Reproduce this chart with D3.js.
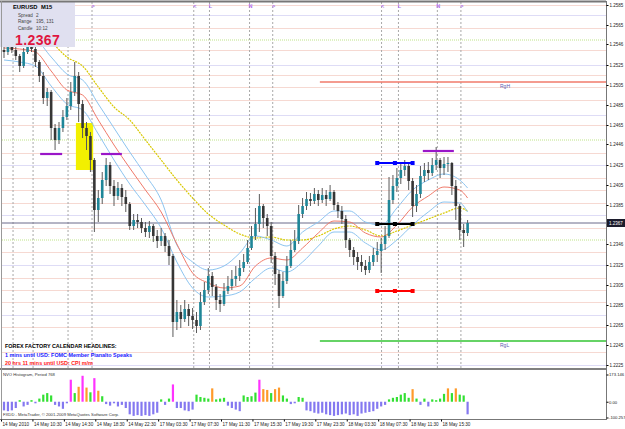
<!DOCTYPE html>
<html>
<head>
<meta charset="utf-8">
<script src="https://cdn.jsdelivr.net/npm/d3@7"></script>
<style>
body { margin: 0; background: #fff; }
svg { display: block; font-family: "Liberation Sans", Arial, sans-serif; }
</style>
</head>
<body>
<div id="chart"></div>
<script>
// EURUSD M15, drawn as 30 min bars
const firstOpen = 1.2540;
const closes = [1.2538,1.2543,1.2540,1.2534,1.2524,1.2538,1.2544,1.2541,1.2528,1.2514,
    1.2492,1.2498,1.2462,1.2450,1.2462,1.2473,1.2484,1.2498,1.2514,1.2486,
    1.2462,1.2454,1.2430,1.2380,1.2392,1.2410,1.2425,1.2404,1.2394,1.2402,
    1.2393,1.2386,1.2364,1.2370,1.2368,1.2362,1.2358,1.2364,1.2354,1.2349,
    1.2354,1.2344,1.2334,1.2268,1.2278,1.2271,1.2281,1.2274,1.2270,1.2264,
    1.2288,1.2300,1.2314,1.2303,1.2290,1.2286,1.2299,1.2304,1.2311,1.2314,
    1.2322,1.2328,1.2342,1.2354,1.2366,1.2384,1.2372,1.2364,1.2334,1.2316,
    1.2294,1.2309,1.2324,1.2340,1.2349,1.2376,1.2384,1.2391,1.2389,1.2396,
    1.2390,1.2395,1.2391,1.2398,1.2385,1.2379,1.2371,1.2350,1.2340,1.2333,
    1.2328,1.2324,1.2320,1.2328,1.2335,1.2339,1.2346,1.2354,1.2390,1.2404,
    1.2412,1.2420,1.2424,1.2409,1.2384,1.2396,1.2414,1.2420,1.2417,1.2425,
    1.2430,1.2422,1.2426,1.2427,1.2404,1.2384,1.2360,1.2357,1.2367];
const highs = [1.2543,1.2546,1.2547,1.2543,1.2536,1.2542,1.2547,1.2546,1.2544,1.2530,
    1.2518,1.2502,1.2500,1.2466,1.2468,1.2480,1.2492,1.2508,1.2528,1.2518,
    1.2490,1.2468,1.2458,1.2432,1.2400,1.2418,1.2432,1.2428,1.2410,1.2408,
    1.2406,1.2400,1.2388,1.2376,1.2376,1.2372,1.2368,1.2369,1.2366,1.2360,
    1.2362,1.2357,1.2350,1.2336,1.2290,1.2285,1.2290,1.2286,1.2282,1.2278,
    1.2298,1.2308,1.2322,1.2318,1.2306,1.2296,1.2307,1.2314,1.2320,1.2324,
    1.2330,1.2336,1.2350,1.2364,1.2382,1.2396,1.2386,1.2376,1.2368,1.2338,
    1.2320,1.2318,1.2334,1.2350,1.2360,1.2385,1.2392,1.2398,1.2397,1.2402,
    1.2400,1.2402,1.2400,1.2405,1.2400,1.2388,1.2384,1.2375,1.2352,1.2343,
    1.2338,1.2335,1.2330,1.2334,1.2342,1.2348,1.2352,1.2364,1.2413,1.2415,
    1.2422,1.2427,1.2430,1.2427,1.2412,1.2405,1.2424,1.2427,1.2428,1.2432,
    1.2443,1.2432,1.2433,1.2433,1.2428,1.2410,1.2386,1.2366,1.2370];
const lows = [1.2532,1.2535,1.2537,1.2530,1.2518,1.2522,1.2536,1.2538,1.2523,1.2508,
    1.2486,1.2484,1.2450,1.2440,1.2446,1.2458,1.2470,1.2480,1.2494,1.2468,
    1.2452,1.2440,1.2418,1.2358,1.2368,1.2386,1.2404,1.2396,1.2384,1.2390,
    1.2384,1.2378,1.2360,1.2360,1.2362,1.2357,1.2353,1.2352,1.2348,1.2342,
    1.2344,1.2338,1.2325,1.2253,1.2260,1.2262,1.2268,1.2264,1.2261,1.2257,
    1.2260,1.2285,1.2296,1.2294,1.2280,1.2278,1.2284,1.2296,1.2300,1.2304,
    1.2309,1.2318,1.2326,1.2340,1.2350,1.2358,1.2362,1.2354,1.2327,1.2305,
    1.2282,1.2292,1.2306,1.2322,1.2338,1.2346,1.2372,1.2380,1.2384,1.2386,
    1.2384,1.2387,1.2384,1.2389,1.2380,1.2372,1.2366,1.2342,1.2333,1.2325,
    1.2320,1.2318,1.2315,1.2317,1.2324,1.2328,1.2317,1.2340,1.2352,1.2386,
    1.2398,1.2406,1.2414,1.2400,1.2373,1.2378,1.2392,1.2408,1.2410,1.2414,
    1.2420,1.2412,1.2415,1.2418,1.2395,1.2370,1.2350,1.2343,1.2354];

// NVO histogram, one value per bar
const histValues = [-55,-60,-55,-40,10,-30,-20,10,-10,20,
    45,55,40,-20,-30,-45,-10,140,55,95,
    165,90,60,150,70,35,-15,-25,-10,-30,
    -20,-40,-80,-90,-85,-90,-85,-90,-80,-70,
    15,-20,20,110,-40,-40,-55,-60,-50,45,
    30,25,20,85,15,20,25,-25,-40,-50,
    -60,40,30,35,58,140,80,75,55,80,
    90,40,20,-15,-10,30,25,-55,-60,-70,
    -75,-70,-80,-85,-90,-85,-80,-75,-85,-80,
    -90,-75,-70,-65,-60,-45,-30,-20,15,25,
    30,45,55,25,80,20,-20,20,-30,15,
    10,20,50,85,55,85,45,40,-80];

// moving averages, read every 4 bars
const maBars = [0,4,8,12,16,20,24,28,32,36,40,44,48,52,56,60,64,68,72,76,80,84,88,92,96,100,104,108,112,116,118];
const maUpper = [1.2554,1.2553,1.2550,1.2533,1.2516,1.2510,1.2486,1.2462,1.2438,1.2415,1.2390,1.2345,1.2328,1.2320,1.2324,1.2337,1.2354,1.2350,1.2344,1.2358,1.2368,1.2379,1.2379,1.2368,1.2365,1.2382,1.2400,1.2410,1.2416,1.2410,1.2402];
const maMiddle = [1.2542,1.2541,1.2538,1.2519,1.2500,1.2495,1.2470,1.2445,1.2422,1.2400,1.2378,1.2346,1.2317,1.2307,1.2302,1.2304,1.2324,1.2332,1.2330,1.2342,1.2357,1.2369,1.2368,1.2357,1.2353,1.2365,1.2383,1.2394,1.2403,1.2400,1.2392];
const maLower = [1.2530,1.2528,1.2524,1.2504,1.2486,1.2480,1.2456,1.2430,1.2406,1.2385,1.2362,1.2328,1.2302,1.2293,1.2294,1.2298,1.2312,1.2322,1.2318,1.2328,1.2344,1.2358,1.2358,1.2347,1.2340,1.2350,1.2365,1.2378,1.2388,1.2387,1.2378];
const slowBars = [8,12,16,20,24,28,32,36,40,44,48,52,56,60,64,68,72,76,80,84,88,92,96,100,104,108,112,116,118];
const maSlow = [1.2560,1.2548,1.2533,1.2524,1.2503,1.2483,1.2470,1.2450,1.2430,1.2410,1.2392,1.2376,1.2365,1.2356,1.2352,1.2353,1.2350,1.2350,1.2354,1.2361,1.2364,1.2360,1.2354,1.2359,1.2365,1.2371,1.2377,1.2382,1.2379];

// axis labels
const priceTicks = [1.2585,1.2565,1.2546,1.2525,1.2505,1.2485,1.2465,1.2446,1.2425,1.2405,1.2385,1.2346,1.2325,1.2305,1.2285,1.2265,1.2245,1.2225];
const labelBars = [0,8,16,24,32,40,48,56,64,72,80,88,96,104,112];
const timeLabels = ['14 May 2010','14 May 10:30','14 May 14:30','14 May 18:30','14 May 22:30','17 May 03:30','17 May 07:30','17 May 11:30','17 May 15:30','17 May 19:30','17 May 23:30','18 May 03:30','18 May 07:30','18 May 11:30','18 May 15:30'];
const histTicks = [173.146, 0, -100.257];
const histTickLabels = ['173.146', '0.00', '-100.257'];

// session lines and their marks
const sessionBars = [2.3,7.4,16.3,22.4,48.3,52.3,62.5,68.4,96.1,100.4,110.3,116.3];
const sessionMarks = ['<','L','N','>','<','L','N','>','<','L','N','>'];

// levels
const currentPrice = 1.2367;
const gridLevels = [1.2575,1.2525,1.2475,1.2425,1.2375,1.2325,1.2275,1.2225];
const pivotLevels = [1.2585,1.2562,1.2540,1.2515,1.2503,1.2490,1.2465,1.2437,1.2412,1.2400,1.2387,1.2362,1.2338,1.2312,1.2300,1.2288,1.2263,1.2238];
const roundLevels = [1.2550, 1.2450, 1.2350];
const rangeNames = ['RgH', 'RgL'];
const rangePrices = [1.2508, 1.2249];
const rangeStart = 80.4;
const markPrices = [1.2427, 1.2366, 1.2299];
const markBars = [95, 99.5, 104];
const purplePrices = [1.2436, 1.2436, 1.2439];
const purpleFrom = [9.2, 24.7, 106.6];
const purpleTo = [14.8, 30.0, 114.5];
const boxBars = [18.3, 22.7];
const boxPrices = [1.2467, 1.2420];

const infoRows = [['Spread', '2'], ['Range', '195, 131'], ['Candle', '10:12']];
const headlines = ['FOREX FACTORY CALENDAR  HEADLINES:', '1 mins until USD: FOMC Member Pianalto Speaks', '20 hrs 11 mins until USD: CPI m/m'];

const width = 625, height = 429;
const axisX = 606;
const infoWidth = 75;

const svg = d3.select('#chart')
    .append('svg')
    .attr('width', width)
    .attr('height', height);

svg.append('rect').attr('width', width).attr('height', height).attr('fill', '#ffffff');

// Scales
const x = d3.scaleLinear().domain([0, 118]).range([4, 467.6]);
const y = d3.scaleLinear().domain([1.2222, 1.2590]).range([368, 0]);
const yh = d3.scaleLinear().domain([-100.257, 173.146]).range([417.5, 374.5]);

const main = svg.append('g').attr('class', 'main');

// Grid and pivot levels
main.selectAll('.pivot')
    .data(pivotLevels)
    .join('line')
    .attr('x1', 2).attr('x2', axisX)
    .attr('y1', d => Math.round(y(d)) + 0.5).attr('y2', d => Math.round(y(d)) + 0.5)
    .attr('stroke', '#f6d9d2');

main.selectAll('.grid')
    .data(gridLevels)
    .join('line')
    .attr('x1', 2).attr('x2', axisX)
    .attr('y1', d => Math.round(y(d)) + 0.5).attr('y2', d => Math.round(y(d)) + 0.5)
    .attr('stroke', '#dedcf6');

// Round number levels
main.selectAll('.round')
    .data(roundLevels)
    .join('line')
    .attr('x1', 2).attr('x2', axisX)
    .attr('y1', d => y(d)).attr('y2', d => y(d))
    .attr('stroke', '#bfe488')
    .attr('stroke-dasharray', '1,1');

// Session lines
main.selectAll('.session')
    .data(sessionBars)
    .join('line')
    .attr('x1', d => x(d)).attr('x2', d => x(d))
    .attr('y1', 2).attr('y2', 368)
    .attr('stroke', '#a8a8a8')
    .attr('stroke-dasharray', '2,2');

// marks under the info box are hidden in the original
main.selectAll('.session-mark')
    .data(sessionBars.map((b, i) => ({ b: b, t: sessionMarks[i] })).filter(d => x(d.b) > infoWidth))
    .join('text')
    .attr('x', d => x(d.b) + 1)
    .attr('y', 8)
    .attr('text-anchor', 'middle')
    .attr('font-size', 5.5)
    .attr('font-weight', 'bold')
    .attr('fill', '#b070f0')
    .text(d => d.t);

// Range lines
main.selectAll('.range')
    .data(rangePrices)
    .join('line')
    .attr('x1', x(rangeStart)).attr('x2', axisX)
    .attr('y1', d => y(d)).attr('y2', d => y(d))
    .attr('stroke', (d, i) => i === 0 ? '#f07a6a' : '#33c433')
    .attr('stroke-width', 1.6);

main.selectAll('.range-label')
    .data(rangePrices)
    .join('text')
    .attr('x', 500)
    .attr('y', d => y(d) + 6)
    .attr('font-size', 5)
    .attr('fill', '#6060b0')
    .text((d, i) => rangeNames[i]);

// Current price line
main.append('line')
    .attr('x1', 2).attr('x2', axisX)
    .attr('y1', y(currentPrice)).attr('y2', y(currentPrice))
    .attr('stroke', '#6a6a8a');

// Highlight box
main.append('rect')
    .attr('x', x(boxBars[0])).attr('width', x(boxBars[1]) - x(boxBars[0]))
    .attr('y', y(boxPrices[0])).attr('height', y(boxPrices[1]) - y(boxPrices[0]))
    .attr('fill', '#f2f000');

// Moving averages
const maLine = (bars) => d3.line()
    .x((d, i) => x(bars[i]))
    .y(d => y(d))
    .curve(d3.curveMonotoneX);

main.append('path').attr('d', maLine(slowBars)(maSlow))
    .attr('fill', 'none').attr('stroke', '#d8c800').attr('stroke-width', 1.2)
    .attr('stroke-dasharray', '2,1');
main.append('path').attr('d', maLine(maBars)(maUpper))
    .attr('fill', 'none').attr('stroke', '#8cc4f0');
main.append('path').attr('d', maLine(maBars)(maLower))
    .attr('fill', 'none').attr('stroke', '#8cc4f0');
main.append('path').attr('d', maLine(maBars)(maMiddle))
    .attr('fill', 'none').attr('stroke', '#f07a6a');

// Candles
const candles = closes.map((c, i) => {
    const o = i === 0 ? firstOpen : closes[i - 1];
    return { i: i, o: o, c: c, h: Math.max(highs[i], o, c), l: Math.min(lows[i], o, c) };
});

const candle = main.append('g')
    .attr('class', 'candles')
    .selectAll('g')
    .data(candles)
    .join('g');

candle.append('line')
    .attr('x1', d => x(d.i)).attr('x2', d => x(d.i))
    .attr('y1', d => y(d.h)).attr('y2', d => y(d.l))
    .attr('stroke', '#5a5a5a');

candle.append('rect')
    .attr('x', d => x(d.i) - 1.3)
    .attr('width', 2.6)
    .attr('y', d => y(Math.max(d.o, d.c)))
    .attr('height', d => Math.max(1, Math.abs(y(d.o) - y(d.c))))
    .attr('fill', d => d.c >= d.o ? '#1f8698' : '#363636');

// Level marks
const markColors = ['#0000ff', '#000000', '#ff0000'];
markPrices.forEach((p, k) => {
    main.append('line')
        .attr('x1', x(markBars[0])).attr('x2', x(markBars[2]))
        .attr('y1', y(p)).attr('y2', y(p))
        .attr('stroke', markColors[k]).attr('stroke-width', 2);
    main.selectAll('.m' + k)
        .data(markBars)
        .join('rect')
        .attr('x', d => x(d) - 2).attr('y', y(p) - 2)
        .attr('width', 4).attr('height', 4)
        .attr('fill', markColors[k]);
});

main.selectAll('.purple')
    .data(purplePrices)
    .join('line')
    .attr('x1', (d, i) => x(purpleFrom[i])).attr('x2', (d, i) => x(purpleTo[i]))
    .attr('y1', d => y(d)).attr('y2', d => y(d))
    .attr('stroke', '#9a16c8').attr('stroke-width', 2.2);

// Headlines
main.selectAll('.headline')
    .data(headlines)
    .join('text')
    .attr('x', 5)
    .attr('y', (d, i) => 348 + i * 8.5)
    .attr('font-size', 5.4)
    .attr('font-weight', 'bold')
    .attr('fill', (d, i) => ['#000', '#1a1aff', '#ff1a1a'][i])
    .text(d => d);

// Info box
const info = svg.append('g').attr('class', 'info');
info.append('rect').attr('x', 0).attr('y', 2).attr('width', infoWidth).attr('height', 45).attr('fill', '#e0e0f0');
info.append('text').attr('x', 13).attr('y', 9).attr('font-size', 5.8).attr('font-weight', 'bold').text('EURUSD');
info.append('text').attr('x', 41).attr('y', 9).attr('font-size', 5.8).attr('font-weight', 'bold').text('M15');
infoRows.forEach((r, k) => {
    info.append('text').attr('x', 18).attr('y', 16.5 + k * 6.5).attr('font-size', 4.6).attr('fill', '#444').text(r[0]);
    info.append('text').attr('x', 36).attr('y', 16.5 + k * 6.5).attr('font-size', 4.6).attr('fill', '#444').text(r[1]);
});
info.append('text').attr('x', 15).attr('y', 44.5).attr('font-size', 14).attr('font-weight', 'bold')
    .attr('letter-spacing', 0.4)
    .attr('fill', '#e0163f').text(currentPrice.toFixed(4));

// Histogram
const histColor = v => v < 0 ? '#8478f0' : v >= 110 ? '#ff33ff' : v >= 62 ? '#ff9a2a' : '#33e033';
svg.append('g')
    .attr('class', 'hist')
    .selectAll('rect')
    .data(histValues)
    .join('rect')
    .attr('x', (d, i) => x(i) - 1.1)
    .attr('width', 2.2)
    .attr('y', d => yh(Math.max(0, d)))
    .attr('height', d => Math.abs(yh(d) - yh(0)))
    .attr('fill', d => histColor(d));

svg.append('text').attr('x', 3).attr('y', 376).attr('font-size', 4.2).attr('fill', '#333').text('NVO Histogram, Period 768');
svg.append('text').attr('x', 3).attr('y', 416).attr('font-size', 4.2).attr('fill', '#333').text('FXDD - MetaTrader, \u00a9 2001-2009 MetaQuotes Software Corp.');

// Frames
svg.append('line').attr('x1', 0).attr('x2', axisX).attr('y1', 1.5).attr('y2', 1.5).attr('stroke', '#777').attr('stroke-width', 2);
svg.append('rect').attr('x', 0).attr('y', 368).attr('width', axisX).attr('height', 2).attr('fill', '#808080');
svg.append('line').attr('x1', 0).attr('x2', axisX).attr('y1', 419.5).attr('y2', 419.5).attr('stroke', '#777');
svg.append('line').attr('x1', 1.5).attr('x2', 1.5).attr('y1', 1).attr('y2', 420).attr('stroke', '#999');
svg.append('line').attr('x1', axisX + 0.5).attr('x2', axisX + 0.5).attr('y1', 1).attr('y2', 420).attr('stroke', '#777');

// Price axis
const yAxis = svg.append('g')
    .attr('transform', `translate(${axisX + 0.5},0)`)
    .call(d3.axisRight(y).tickValues(priceTicks).tickSize(2).tickFormat(d => d.toFixed(4)));
yAxis.select('.domain').remove();
yAxis.selectAll('text').attr('font-size', 4.5).attr('x', 3).attr('fill', '#222');

// Current price tag
svg.append('rect').attr('x', axisX + 1).attr('y', y(currentPrice) - 4).attr('width', 18).attr('height', 8).attr('fill', '#1c1c2c');
svg.append('text').attr('x', axisX + 3).attr('y', y(currentPrice) + 1.7).attr('font-size', 4.5).attr('fill', '#fff').text(currentPrice.toFixed(4));

// Histogram axis
const hAxis = svg.append('g')
    .attr('transform', `translate(${axisX + 0.5},0)`)
    .call(d3.axisRight(yh).tickValues(histTicks).tickSize(2).tickFormat((d, i) => histTickLabels[i]));
hAxis.select('.domain').remove();
hAxis.selectAll('text').attr('font-size', 4.2).attr('x', 2.5).attr('fill', '#222');

// Time axis
const xAxis = svg.append('g')
    .attr('transform', 'translate(-3,419.5)')
    .call(d3.axisBottom(x).tickValues(labelBars).tickSize(2).tickFormat((d, i) => timeLabels[i]));
xAxis.select('.domain').remove();
xAxis.selectAll('text').attr('font-size', 4.6).attr('text-anchor', 'start').attr('dx', 1).attr('y', 3.5).attr('fill', '#222');
</script>
</body>
</html>
